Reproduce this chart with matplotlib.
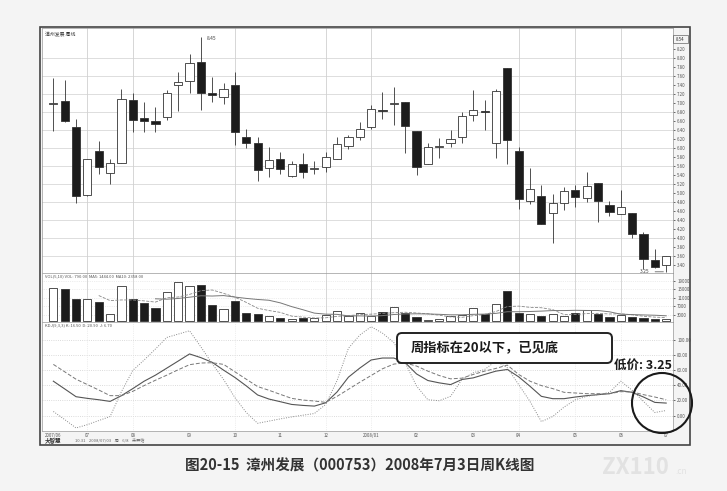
import numpy as np
import pandas as pd
import matplotlib
matplotlib.use('Agg')
import matplotlib.pyplot as plt
from matplotlib import patches

plt.rcParams['font.family'] = ['Noto Sans CJK SC', 'DejaVu Sans']

# weekly candles, 漳州发展 2007/06 - 2008/07
opens = [6.96, 7.04, 6.47, 4.95, 5.92, 5.45, 5.67, 7.07, 6.67, 6.59,
         6.68, 7.39, 7.49, 7.91, 7.21, 7.13, 7.39, 6.25, 6.10, 5.55,
         5.76, 5.37, 5.64, 5.52, 5.58, 5.75, 6.04, 6.25, 6.45, 6.84,
         6.96, 7.02, 6.37, 5.64, 6.01, 6.10, 6.23, 6.72, 6.82, 6.11,
         7.78, 5.94, 4.83, 4.94, 4.55, 4.78, 5.06, 4.88, 5.21, 4.73,
         4.53, 4.55, 4.09, 3.51, 3.40]
closes = [6.98, 6.60, 4.93, 5.75, 5.57, 5.67, 7.08, 6.62, 6.59, 6.53,
          7.22, 7.46, 7.89, 7.22, 7.16, 7.30, 6.36, 6.10, 5.51, 5.73,
          5.52, 5.64, 5.47, 5.55, 5.80, 6.08, 6.25, 6.42, 6.87, 6.82,
          6.99, 6.48, 5.58, 6.02, 6.03, 6.20, 6.70, 6.83, 6.80, 7.27,
          6.17, 4.86, 5.09, 4.30, 4.78, 5.05, 4.92, 5.16, 4.82, 4.58,
          4.69, 4.09, 3.53, 3.36, 3.59]
highs = [7.55, 7.50, 6.63, 5.76, 6.15, 5.75, 7.30, 7.22, 7.01, 6.91,
         7.28, 7.69, 8.08, 8.45, 7.56, 7.43, 7.67, 6.42, 6.25, 6.01,
         5.90, 5.70, 5.88, 5.71, 5.90, 6.23, 6.28, 6.57, 6.94, 7.23,
         7.34, 7.02, 6.37, 6.11, 6.21, 6.39, 6.79, 7.28, 7.05, 7.30,
         7.78, 6.02, 5.55, 5.18, 4.97, 5.12, 5.17, 5.47, 5.21, 4.82,
         5.06, 4.55, 4.13, 3.76, 3.59]
lows = [6.38, 6.57, 4.78, 4.94, 5.42, 5.20, 5.66, 6.36, 6.36, 6.35,
        6.62, 6.82, 7.21, 6.84, 7.01, 6.97, 6.06, 6.00, 5.27, 5.35,
        5.43, 5.35, 5.32, 5.42, 5.47, 5.75, 5.97, 6.17, 6.41, 6.63,
        6.50, 5.88, 5.40, 5.64, 5.77, 6.02, 6.10, 6.60, 6.39, 5.77,
        5.63, 4.64, 4.75, 4.30, 3.90, 4.62, 4.69, 4.80, 4.36, 4.49,
        4.53, 3.99, 3.31, 3.34, 3.25]
volumes = [15500, 15200, 10450, 10450, 8870, 3480, 16780, 10290, 8390, 6020,
           13620, 18680, 16470, 17260, 7600, 5700, 9660, 3960, 3330, 2220,
           1270, 790, 1580, 1270, 2690, 4750, 2530, 3800, 2530, 4350,
           6490, 3640, 2060, 630, 950, 2380, 2690, 6020, 3480, 7920,
           14250, 3640, 3170, 2530, 3480, 2380, 3960, 5230, 3170, 1900,
           2850, 1740, 1580, 1110, 790]

k_vals = [45.4, 35.2, 24.9, 22.7, 20.9, 18.7, 26.3, 35.6, 45.4, 53.4,
          62.7, 72.0, 81.4, 76.5, 70.3, 60.0, 50.3, 39.2, 27.2, 21.8,
          18.3, 14.7, 13.4, 12.5, 16.9, 31.2, 50.7, 62.7, 73.4, 76.0,
          76.0, 70.0, 55.0, 46.3, 43.2, 40.9, 47.6, 49.8, 54.3, 58.7,
          60.9, 51.2, 38.7, 25.4, 22.3, 22.3, 24.5, 26.3, 27.6, 28.9,
          32.9, 30.7, 24.5, 17.4, 16.5]
d_vals = [67.6, 57.8, 48.0, 40.9, 33.8, 26.3, 26.3, 32.0, 39.6, 46.7,
          53.4, 60.5, 67.2, 69.4, 69.8, 67.6, 57.8, 48.0, 38.3, 33.4,
          28.0, 22.7, 20.5, 19.2, 17.4, 25.4, 34.7, 44.0, 52.9, 61.8,
          68.0, 69.5, 65.4, 58.7, 52.9, 48.5, 49.4, 54.3, 58.7, 62.3,
          66.7, 54.3, 45.4, 39.6, 35.6, 30.7, 29.8, 28.9, 28.9, 28.9,
          31.6, 31.2, 27.6, 24.5, 20.9]
j_vals = [5.4, -5.3, -16.4, -12.0, -6.6, -1.3, 31.6, 59.6, 73.4, 88.0,
          103.2, 107.6, 112.0, 90.7, 68.5, 47.6, 23.6, 4.0, -10.2, -7.3,
          -4.4, -1.8, 0.5, 2.7, 14.7, 46.3, 88.9, 106.3, 117.4, 108.9,
          96.5, 70.0, 39.0, 20.9, 19.6, 25.4, 47.6, 56.5, 60.9, 72.0,
          63.2, 40.9, 18.7, -8.0, -1.3, 11.2, 20.9, 25.4, 27.6, 30.7,
          45.4, 33.4, 18.7, 4.0, 6.7]

month_pos = [0, 3, 7, 12, 16, 20, 24, 28, 32, 37, 41, 46, 50, 54]
month_labels = ['2007/06', '07', '08', '09', '10', '11', '12', '2008/01',
                '02', '03', '04', '05', '06', '07']
grid_months = [3, 7, 16, 24, 28, 41, 46, 50]
price_ticks = np.round(np.arange(8.2, 3.39, -0.2), 2)
vol_ticks = [19000, 15000, 11000, 7000, 3000]
kdj_ticks = [100, 80, 60, 40, 20, 0]

W, H = 727, 491
fig = plt.figure(figsize=(7.27, 4.91), dpi=100, facecolor='#f4f4f4')


def px_axes(x0, y0, x1, y1):
    return fig.add_axes([x0 / W, 1 - y1 / H, (x1 - x0) / W, (y1 - y0) / H])


idx = np.arange(len(opens))
o = np.array(opens); c = np.array(closes)
up = c >= o
dark = '#1c1c1c'
xlim = (-1.0, 54.6)

# ---- price panel
ax = px_axes(42, 28, 673, 273)
ax.set_xlim(*xlim)
ax.set_ylim(3.224, 8.656)
for g in np.arange(8.0, 3.3, -0.4):
    ax.axhline(g, color='#d8d8d8', lw=0.6, zorder=0)
for m in grid_months:
    ax.axvline(m, color='#d0d0d0', lw=0.6, zorder=0)
ax.vlines(idx, lows, highs, color='#333333', lw=0.6, zorder=2)
body_bot = np.minimum(o, c)
body_h = np.maximum(np.abs(c - o), 0.025)
ax.bar(idx, body_h, bottom=body_bot, width=0.72,
       color=np.where(up, 'white', dark), edgecolor='#333333', lw=0.6, zorder=3)
ax.annotate('8.45', xy=(int(np.argmax(highs)), max(highs)), xytext=(4, -1),
            textcoords='offset points', fontsize=3.5, color='#444', va='center')
ax.annotate('3.25', xy=(int(np.argmin(lows)), min(lows)), xytext=(-12, 0),
            textcoords='offset points', fontsize=3.5, color='#444', va='center',
            ha='right', arrowprops=dict(arrowstyle='-', lw=0.5, color='#444'))
ax.text(0.005, 0.985, '漳州发展 周线', transform=ax.transAxes, fontsize=3.5,
        va='top', color='#333')
ax.yaxis.tick_right()
ax.set_yticks(price_ticks)
ax.set_yticklabels([f'{t:.2f}' for t in price_ticks], fontsize=3.2, color='#555')
ax.tick_params(axis='y', length=1.5, width=0.4, pad=1.5)
ax.set_xticks([])

# ---- volume panel
axv = px_axes(42, 273, 673, 322)
axv.set_xlim(*xlim)
axv.set_ylim(-475, 22800)
for g in vol_ticks:
    axv.axhline(g, color='#dddddd', lw=0.5, ls=':', zorder=0)
for m in grid_months:
    axv.axvline(m, color='#d0d0d0', lw=0.6, zorder=0)
axv.bar(idx, volumes, width=0.72, color=np.where(up, 'white', dark),
        edgecolor='#333333', lw=0.6, zorder=3)
vs = pd.Series(volumes, dtype=float)
axv.plot(idx, vs.rolling(5).mean(), color='#888888', lw=0.6, ls='--', zorder=4)
axv.plot(idx, vs.rolling(10).mean(), color='#777777', lw=0.7, zorder=4)
axv.text(0.005, 0.97, 'VOL(5,10) VOL: 790.00  MA5: 1444.00  MA10: 2358.00',
         transform=axv.transAxes, fontsize=3, va='top', color='#555')
axv.yaxis.tick_right()
axv.set_yticks(vol_ticks)
axv.set_yticklabels([str(v) for v in vol_ticks], fontsize=3.2, color='#555')
axv.tick_params(axis='y', length=1.5, width=0.4, pad=1.5)
axv.set_xticks([])

# ---- KDJ panel
axk = px_axes(42, 322, 673, 431)
axk.set_xlim(*xlim)
axk.set_ylim(-20.4, 123.6)
for g in kdj_ticks:
    axk.axhline(g, color='#cfcfcf', lw=0.6, ls=':', zorder=0)
for m in grid_months:
    axk.axvline(m, color='#e0e0e0', lw=0.5, ls=':', zorder=0)
axk.plot(idx, k_vals, color='#555555', lw=0.8)
axk.plot(idx, d_vals, color='#777777', lw=0.7, ls=(0, (4, 2)))
axk.plot(idx, j_vals, color='#8a8a8a', lw=0.7, ls=(0, (1, 1.5)))
axk.text(0.005, 0.99, 'KDJ(9,3,3) K: 16.50  D: 20.90  J: 6.70',
         transform=axk.transAxes, fontsize=3, va='top', color='#555')
axk.yaxis.tick_right()
axk.set_yticks(kdj_ticks)
axk.set_yticklabels([f'{t:.2f}' for t in kdj_ticks], fontsize=3.2, color='#555')
axk.tick_params(axis='y', length=1.5, width=0.4, pad=1.5)
axk.set_xticks(month_pos)
axk.set_xticklabels(month_labels, fontsize=3.2, color='#555')
axk.tick_params(axis='x', length=0, pad=1.5)

for a in (ax, axv, axk):
    for s in a.spines.values():
        s.set_color('#999999')
        s.set_linewidth(0.5)

# ---- overlay in pixel coordinates
ov = fig.add_axes([0, 0, 1, 1])
ov.set_xlim(0, W)
ov.set_ylim(H, 0)
ov.axis('off')
ov.patch.set_alpha(0)
ov.add_patch(patches.Rectangle((40, 27), 650, 418, fill=False, ec='#444444', lw=1.2))
ov.add_patch(patches.Rectangle((673, 35), 15, 8, fill=False, ec='#666666', lw=0.5))
ov.text(680.5, 39, '8.54', fontsize=3.2, ha='center', va='center', color='#333')
ov.text(45, 440, '大智慧', fontsize=4, va='center', color='#333', fontweight='bold')
ov.text(75, 440, '10.31    2008/07/03    周    6/8    未开始', fontsize=3,
        va='center', color='#666')

ov.add_patch(patches.FancyBboxPatch((397, 333), 215, 30,
                                    boxstyle='round,pad=0,rounding_size=5',
                                    fc='white', ec='#222222', lw=1.4, zorder=5))
ov.text(411, 348.5, '周指标在20以下，已见底', fontsize=9.5, va='center',
        color='#1a1a1a', fontweight='bold', zorder=6)
ov.text(614, 365, '低价: 3.25', fontsize=9, va='center', color='#1a1a1a',
        fontweight='bold', zorder=6)
ov.add_patch(patches.Circle((662, 403), 30, fill=False, ec='#1a1a1a', lw=1.5, zorder=6))

ov.text(360, 466, '图20-15  漳州发展（000753）2008年7月3日周K线图', fontsize=10.5,
        ha='center', va='center', color='#333333', fontweight='bold')
ov.text(602, 467, 'ZX110', fontsize=16, va='center', color='#e2e2e2', fontweight='bold')
ov.text(675, 472, '.cn', fontsize=6, va='center', color='#e2e2e2')

fig.savefig('out.png', dpi=100, facecolor=fig.get_facecolor())
